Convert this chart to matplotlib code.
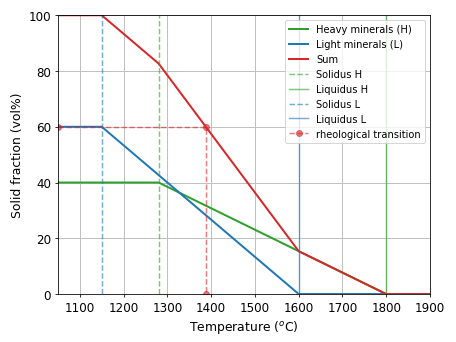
import matplotlib
matplotlib.use("Agg")
import matplotlib.pyplot as plt
import numpy as np

# Data
T = [1050, 1150, 1280, 1600, 1800, 1900]
solidus_H, liquidus_H = 1280, 1800
solidus_L, liquidus_L = 1150, 1600
heavy = [40, 40, 40, 15.38, 0, 0]
light = [60, 60, 42.67, 0, 0, 0]
total = [100, 100, 82.67, 15.38, 0, 0]
rheo_T = 1388
rheo_phi = 60

fig = plt.figure(figsize=(6.4, 4.8), dpi=71.4)
ax = fig.add_axes([58/457, 1-295/343, (430-58)/457, (295-16)/343])
ax.plot(T, heavy, color='#2ca02c', lw=2, label='Heavy minerals (H)')
ax.plot(T, light, color='#1f77b4', lw=2, label='Light minerals (L)')
ax.plot(T, total, color='#d62728', lw=2, label='Sum')
ax.axvline(solidus_H, color='#2ca02c', ls='--', alpha=0.6, lw=1.5, label='Solidus H')
ax.axvline(liquidus_H, color='#2ca02c', ls='-', alpha=0.6, lw=1.5, label='Liquidus H')
ax.axvline(solidus_L, color='#1f77b4', ls='--', alpha=0.6, lw=1.5, label='Solidus L')
ax.axvline(liquidus_L, color='#1f77b4', ls='-', alpha=0.6, lw=1.5, label='Liquidus L')
ax.plot([1050, rheo_T, rheo_T], [rheo_phi, rheo_phi, 0], color='#d62728', ls='--',
        marker='o', alpha=0.6, lw=1.5, label='rheological transition')
ax.set_xlim(1050, 1900)
ax.set_ylim(0, 100)
ax.set_xticks(np.arange(1100, 1901, 100))
ax.tick_params(labelsize=12)
ax.grid(True, color='#c0c0c0', lw=1)
ax.set_xlabel('Temperature ($^o$C)', fontsize=12.5)
ax.set_ylabel('Solid fraction (vol%)', fontsize=12.5)
ax.legend(loc='upper right', fontsize=10)
fig.savefig('out.png')
